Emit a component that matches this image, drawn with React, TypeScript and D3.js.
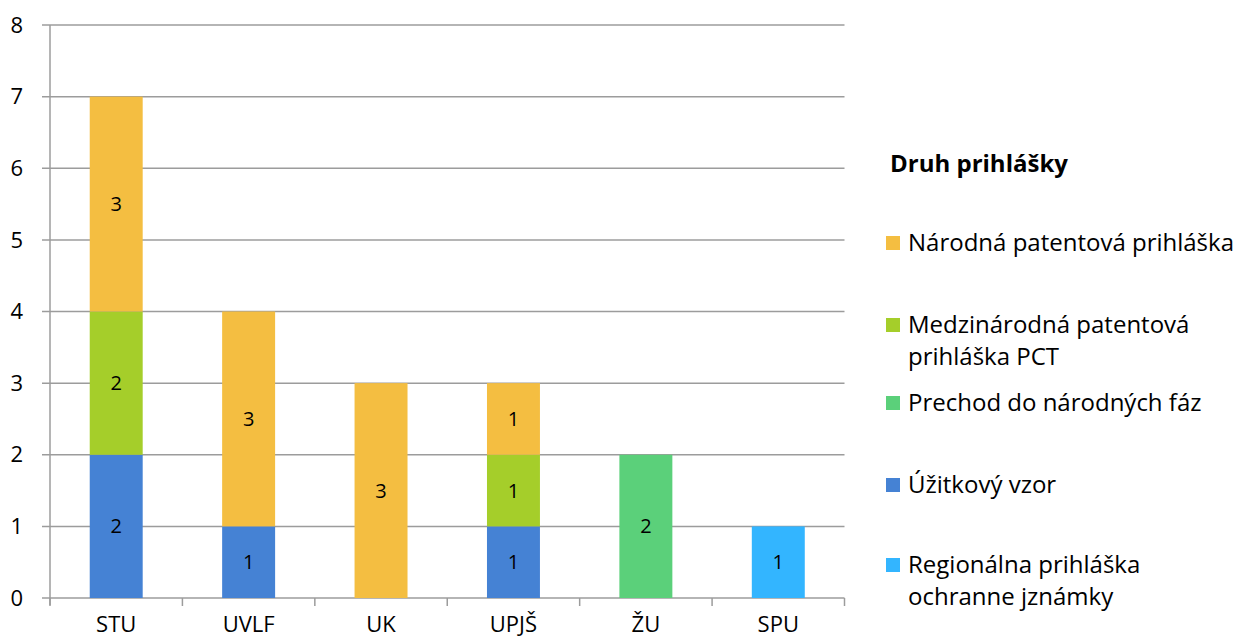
import React from "react";
import * as d3 from "d3";

const categories = ["STU", "UVLF", "UK", "UPJŠ", "ŽU", "SPU"];
// stack order bottom -> top
const seriesNames = [
  "Regionálna prihláška ochranne jznámky",
  "Úžitkový vzor",
  "Prechod do národných fáz",
  "Medzinárodná patentová prihláška PCT",
  "Národná patentová prihláška",
];
const regionalna = [0, 0, 0, 0, 0, 1];
const uzitkovy = [2, 1, 0, 1, 0, 0];
const prechod = [0, 0, 0, 0, 2, 0];
const medzinarodna = [2, 0, 0, 1, 0, 0];
const narodna = [3, 3, 3, 1, 0, 0];
const seriesColors = ["#33B5FF", "#4582D4", "#5BD07A", "#A5CE2A", "#F4BE41"];
const yTicks = [0, 1, 2, 3, 4, 5, 6, 7, 8];
const legendTitle = "Druh prihlášky";
// legend order top -> bottom, with line breaks
const legendItems = [
  { idx: 4, lines: ["Národná patentová prihláška"] },
  { idx: 3, lines: ["Medzinárodná patentová", "prihláška PCT"] },
  { idx: 2, lines: ["Prechod do národných fáz"] },
  { idx: 1, lines: ["Úžitkový vzor"] },
  { idx: 0, lines: ["Regionálna prihláška", "ochranne jznámky"] },
];

const W = 1234;
const H = 640;
const FONT = "'Open Sans', sans-serif";

export default function App() {
  const values = [regionalna, uzitkovy, prechod, medzinarodna, narodna];
  const rows = categories.map((c, i) => {
    const r: any = { cat: c };
    seriesNames.forEach((s, j) => (r[s] = values[j][i]));
    return r;
  });
  const stacked = d3.stack().keys(seriesNames)(rows);

  const x = d3
    .scaleBand()
    .domain(categories)
    .range([50, 844.5])
    .paddingInner(0.6)
    .paddingOuter(0.3);
  const y = d3.scaleLinear().domain([0, 8]).range([598, 25]);

  const legendY = [243, 325, 403, 485, 565];

  return (
    <svg
      width={W}
      height={H}
      style={{ position: "absolute", left: 0, top: 0, background: "#fff" }}
      fontFamily={FONT}
    >
      {/* gridlines */}
      {yTicks.map((t) => (
        <line
          key={"g" + t}
          x1={42}
          x2={844.5}
          y1={y(t)}
          y2={y(t)}
          stroke="#9c9c9c"
          strokeWidth={1.5}
        />
      ))}
      {/* bars */}
      {stacked.map((layer, j) =>
        layer.map((d, i) => {
          const v = d[1] - d[0];
          if (!v) return null;
          const cat = categories[i];
          const x0 = x(cat)!;
          return (
            <g key={j + "-" + i}>
              <rect
                x={x0}
                y={y(d[1])}
                width={x.bandwidth()}
                height={y(d[0]) - y(d[1])}
                fill={seriesColors[j]}
              />
              <text
                x={x0 + x.bandwidth() / 2}
                y={(y(d[0]) + y(d[1])) / 2}
                dy="0.35em"
                textAnchor="middle"
                fontSize={20}
                fill="#000"
              >
                {v}
              </text>
            </g>
          );
        })
      )}
      {/* y axis */}
      <line x1={50} x2={50} y1={25} y2={605} stroke="#9c9c9c" strokeWidth={1.5} />
      {yTicks.map((t) => (
        <text
          key={"yl" + t}
          x={23}
          y={y(t)}
          dy="0.35em"
          textAnchor="end"
          fontSize={22}
          fill="#000"
        >
          {t}
        </text>
      ))}
      {/* x axis ticks */}
      {d3.range(categories.length + 1).map((k) => {
        const xx = 50 + (k * (844.5 - 50)) / categories.length;
        return (
          <line
            key={"xt" + k}
            x1={xx}
            x2={xx}
            y1={598}
            y2={606}
            stroke="#9c9c9c"
            strokeWidth={1.5}
          />
        );
      })}
      {categories.map((c) => (
        <text
          key={"xl" + c}
          x={x(c)! + x.bandwidth() / 2}
          y={632}
          textAnchor="middle"
          fontSize={22}
          fill="#000"
        >
          {c}
        </text>
      ))}
      {/* legend */}
      <text x={890} y={172} fontSize={24} fontWeight="bold" fill="#000">
        {legendTitle}
      </text>
      {legendItems.map((it, k) => (
        <g key={"lg" + k}>
          <rect
            x={886}
            y={legendY[k] - 7}
            width={14}
            height={14}
            fill={seriesColors[it.idx]}
          />
          {it.lines.map((ln, m) => (
            <text
              key={m}
              x={908}
              y={legendY[k] + m * 32}
              dy="0.35em"
              fontSize={24}
              fill="#000"
            >
              {ln}
            </text>
          ))}
        </g>
      ))}
    </svg>
  );
}
